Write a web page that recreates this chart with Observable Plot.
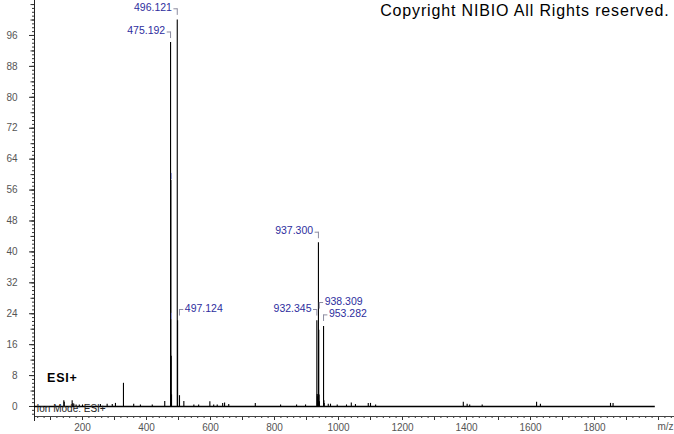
<!DOCTYPE html>
<html>
<head>
<meta charset="utf-8">
<script src="https://cdn.jsdelivr.net/npm/d3@7"></script>
<script src="https://cdn.jsdelivr.net/npm/@observablehq/plot@0.6"></script>
<style>
  html, body { margin: 0; padding: 0; background: white; }
</style>
</head>
<body>
<div id="chart"></div>
<script>
// ---- data ----
const mz = [
  141.6, 143.0, 167.7, 170.0, 173.0, 180.0, 190.0, 200.0, 256.0, 277.0, 293.0, 303.0,
  328.0, 360.0, 381.0, 418.0, 457.0,
  475.192, 476.19, 477.19, 478.2, 496.121, 497.124, 503.1, 516.7, 548.0, 563.0, 598.0,
  610.0, 621.0, 638.0, 644.0, 657.0, 740.0, 819.0, 869.0, 897.0,
  932.345, 933.35, 934.3, 936.3, 937.300, 938.309, 939.3, 940.3, 953.282, 954.28, 955.3,
  968.0, 975.0, 996.0, 1025.0, 1040.0, 1053.0, 1093.0, 1100.0, 1116.0,
  1390.0, 1402.0, 1410.0, 1449.0, 1619.0, 1631.0, 1850.0, 1858.0
];
const intensity = [
  1.5, 1.1, 1.5, 0.8, 0.6, 0.4, 0.4, 0.4, 0.5, 0.6, 0.5, 0.8,
  6.0, 0.6, 0.4, 0.4, 1.3,
  94.2, 58.5, 13.0, 3.0, 100.0, 22.2, 2.8, 1.3, 0.4, 0.4, 1.2,
  0.4, 0.4, 0.8, 0.9, 0.5, 0.8, 0.4, 0.4, 0.4,
  22.2, 3.1, 2.5, 3.0, 42.4, 19.7, 3.0, 1.2, 20.7, 1.5, 0.8,
  0.6, 0.6, 0.4, 0.4, 0.9, 0.5, 0.8, 0.8, 0.4,
  1.1, 0.6, 0.4, 0.4, 1.1, 0.6, 0.8, 0.8
];

// labelled peaks
const labelMz    = [496.121, 475.192, 497.124, 937.300, 932.345, 938.309, 953.282];
const labelSide  = ["left", "left", "right", "left", "left", "right", "right"];
const labelLevel = [103.2, 97.2, 25.4, 45.4, 25.4, 27.2, 24.0];
const bracketAt  = [496.121, 475.192, 503.0, 937.3, 932.345, 940.0, 953.282];

// hidden-label stubs near 476
const stubMz = [478.0, 478.0];
const stubTop = [60.3, 24.1];
const stubBottom = [58.7, 22.5];

// axis ticks
const yLabelTicks = d3.range(0, 97, 8);
const xLabelTicks = d3.range(200, 1801, 200);

// ---- build ----
const peaks = mz.map((m, k) => ({mz: m, inten: intensity[k]}));
const labels = labelMz.map((m, k) => ({
  text: m.toFixed(3),
  side: labelSide[k],
  level: labelLevel[k],
  at: bracketAt[k],
  sign: labelSide[k] === "left" ? -1 : 1
}));
const stubs = stubMz.map((m, k) => ({mz: m, y1: stubTop[k], y2: stubBottom[k]}));

const font = "'Liberation Sans', Arial, sans-serif";
const labelColor = "#2e2e9e";
const bracketColor = "#8c8ca0";
const tickColor = "#333";

const chart = Plot.plot({
  width: 674,
  height: 434,
  marginLeft: 34,
  marginRight: 0,
  marginTop: 0,
  marginBottom: 18,
  style: {fontFamily: font, fontSize: "10px", background: "white", color: "#555"},
  x: {domain: [50, 2050], axis: null, label: null},
  y: {domain: [-2.59, 105.05], axis: null, label: null},
  marks: [
    // y axis ticks
    Plot.axisY(d3.range(-2, 105, 1), {tickSize: 2, tickFormat: () => "", stroke: tickColor, label: null}),
    Plot.axisY(d3.range(0, 105, 4), {tickSize: 3.5, tickFormat: () => "", stroke: tickColor, label: null}),
    Plot.axisY(yLabelTicks, {tickSize: 5, tickPadding: 12, tickFormat: d => String(d), stroke: tickColor, fill: "#555", label: null}),
    // x axis ticks
    Plot.axisX(d3.range(60, 2041, 20), {tickSize: 2, tickFormat: () => "", stroke: tickColor, label: null}),
    Plot.axisX(d3.range(100, 2001, 100), {tickSize: 4, tickFormat: () => "", stroke: tickColor, label: null}),
    Plot.axisX(xLabelTicks, {tickSize: 4, tickPadding: 3, tickFormat: d => String(d), stroke: tickColor, fill: "#555", label: null}),
    // axis lines
    Plot.ruleY([-2.59], {stroke: "#444", strokeWidth: 1}),
    Plot.ruleX([50], {stroke: "#222", strokeWidth: 1, insetBottom: -5}),
    // baseline
    Plot.ruleY([0], {x1: 50, x2: 1990, stroke: "black", strokeWidth: 1.5}),
    // peaks
    Plot.ruleX(peaks, {x: "mz", y1: 0, y2: "inten", stroke: "black", strokeWidth: 1.1}),
    // stubs
    Plot.ruleX(stubs, {x: "mz", y1: "y1", y2: "y2", stroke: "#8f95d0", strokeWidth: 1}),
    // label brackets
    Plot.link(labels, {x1: "at", x2: d => d.at + d.sign * 12, y1: d => d.level - 0.3, y2: d => d.level - 0.3, stroke: bracketColor, strokeWidth: 1}),
    Plot.ruleX(labels, {x: "at", y1: d => d.level - 0.3, y2: d => d.level - 2.0, stroke: bracketColor, strokeWidth: 1}),
    // label texts
    Plot.text(labels.filter(d => d.side === "left"), {
      x: d => d.at - 12, y: "level", text: "text", textAnchor: "end", dx: -1.5, fill: labelColor, fontSize: 10.5
    }),
    Plot.text(labels.filter(d => d.side === "right"), {
      x: d => d.at + 12, y: "level", text: "text", textAnchor: "start", dx: 1.5, fill: labelColor, fontSize: 10.5
    }),
    // annotations
    Plot.text(["Copyright NIBIO All Rights reserved."], {
      frameAnchor: "top-right", textAnchor: "end", lineAnchor: "top",
      dx: -5, dy: 4, fill: "black", fontSize: 16
    }),
    Plot.text(["ESI+"], {
      frameAnchor: "bottom-left", textAnchor: "start", lineAnchor: "middle",
      dx: 12.5, dy: -38.5, fill: "black", fontSize: 12.5, fontWeight: 600
    }),
    Plot.text(["Ion Mode: ESI+"], {
      frameAnchor: "bottom-left", textAnchor: "start", lineAnchor: "middle",
      dx: 2, dy: -7.5, fill: "#222", fontSize: 10
    }),
    Plot.text(["m/z"], {
      frameAnchor: "bottom-right", textAnchor: "end", lineAnchor: "top",
      dx: -1, dy: 6, fill: "#555", fontSize: 10
    })
  ]
});
// letter spacing for the wide annotation texts
d3.select(chart).selectAll("text").each(function() {
  const t = this.textContent;
  if (t === "Copyright NIBIO All Rights reserved.") d3.select(this).style("letter-spacing", "0.85px");
  if (t === "ESI+") d3.select(this).style("letter-spacing", "0.8px");
});
document.getElementById("chart").appendChild(chart);
</script>
</body>
</html>
